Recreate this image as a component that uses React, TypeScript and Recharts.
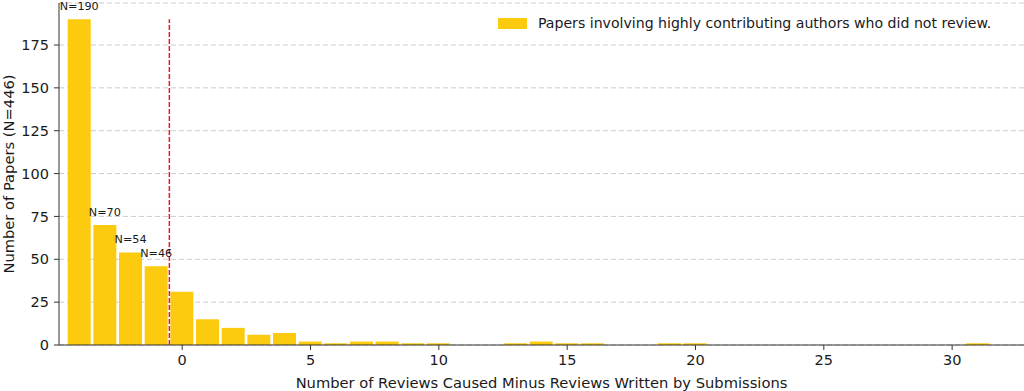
import React from 'react';
import {
  BarChart,
  Bar,
  XAxis,
  YAxis,
  CartesianGrid,
  ReferenceLine,
  Legend,
  LabelList,
  Label,
} from 'recharts';

// difference bins (reviews caused minus reviews written)
const bins = [
  -4, -3, -2, -1, 0, 1, 2, 3, 4, 5, 6, 7, 8, 9, 10, 11, 12, 13, 14, 15, 16, 17, 18, 19, 20,
  21, 22, 23, 24, 25, 26, 27, 28, 29, 30, 31,
];
const counts = [
  190, 70, 54, 46, 31, 15, 10, 6, 7, 2, 1, 2, 2, 1, 1, 0, 0, 1, 2, 1, 1, 0, 0, 1, 1,
  0, 0, 0, 0, 0, 0, 0, 0, 0, 0, 1,
];
// annotated bins (the negative side)
const annotated = [-4, -3, -2, -1];

const xTicks = [0, 5, 10, 15, 20, 25, 30];
const yTicks = [0, 25, 50, 75, 100, 125, 150, 175];

const BAR_COLOR = '#FCCA0E';
const FONT = 'DejaVu Sans, sans-serif';
const TEXT = '#1a1a1a';

const data = bins.map((x, i) => ({
  x,
  count: counts[i],
  note: annotated.includes(x) ? `N=${counts[i]}` : '',
}));

const renderLegend = () => (
  <div style={{ display: 'flex', alignItems: 'center', fontFamily: FONT, fontSize: 14.1, color: TEXT }}>
    <span style={{ display: 'inline-block', width: 29, height: 11, background: BAR_COLOR, marginRight: 11 }} />
    <span>Papers involving highly contributing authors who did not review.</span>
  </div>
);

export default function App() {
  return (
    <div style={{ width: 1024, height: 391, position: 'relative' }}>
      <style>{'body{margin:0}'}</style>
      <BarChart
        width={1024}
        height={391}
        data={data}
        margin={{ top: 3, right: 0, bottom: 0, left: 0 }}
        style={{ fontFamily: FONT }}
      >
        <CartesianGrid vertical={false} stroke="#cccccc" strokeDasharray="5 3" />
        <XAxis
          type="number"
          dataKey="x"
          domain={[-4.8, 32.8]}
          allowDataOverflow
          ticks={xTicks}
          height={46}
          tickSize={5}
          tickMargin={5}
          stroke="#333"
          tick={{ fontSize: 14.5, fill: TEXT }}
        >
          <Label
            value="Number of Reviews Caused Minus Reviews Written by Submissions"
            position="insideBottom"
            offset={3}
            style={{ fontSize: 14.7, fill: TEXT }}
          />
        </XAxis>
        <YAxis
          type="number"
          domain={[0, 199.5]}
          allowDataOverflow
          ticks={yTicks}
          width={59}
          tickSize={5}
          tickMargin={5}
          stroke="#333"
          tick={{ fontSize: 14.5, fill: TEXT }}
        >
          <Label
            value="Number of Papers (N=446)"
            angle={-90}
            position="insideLeft"
            offset={9}
            style={{ fontSize: 14.7, fill: TEXT, textAnchor: 'middle' }}
          />
        </YAxis>
        <Legend
          layout="horizontal"
          verticalAlign="middle"
          align="center"
          content={renderLegend}
          wrapperStyle={{ position: 'absolute', top: 15, left: 498, width: 'auto', height: 'auto' }}
        />
        <Bar dataKey="count" fill={BAR_COLOR} barSize={23} isAnimationActive={false}>
          <LabelList dataKey="note" position="top" offset={9.5} style={{ fontSize: 11.2, fill: TEXT }} />
        </Bar>
        <ReferenceLine
          segment={[
            { x: -0.5, y: 0 },
            { x: -0.5, y: 190 },
          ]}
          stroke="#f01818"
          strokeDasharray="5 2"
          strokeWidth={1.5}
        />
      </BarChart>
    </div>
  );
}
